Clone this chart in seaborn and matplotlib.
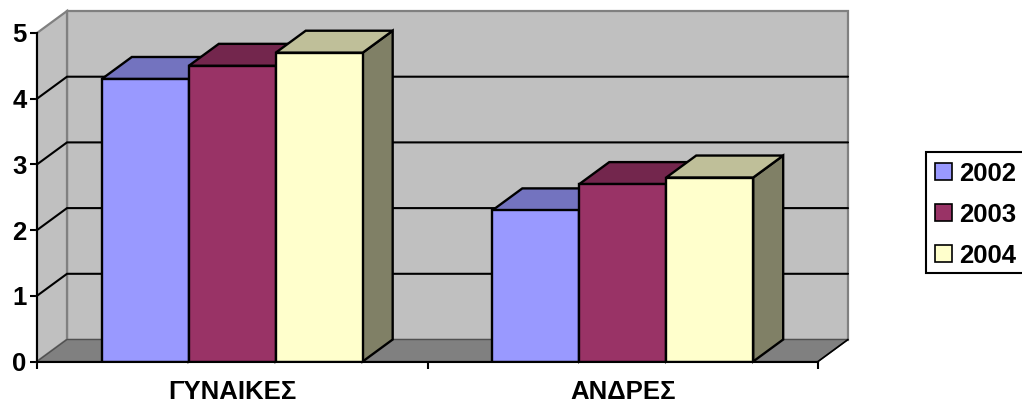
import seaborn as sns
import matplotlib.pyplot as plt
import pandas as pd
from matplotlib.patches import Polygon, Rectangle

categories = ["ΓΥΝΑΙΚΕΣ", "ΑΝΔΡΕΣ"]
years = ["2002", "2003", "2004"]
values_2002 = [4.3, 2.3]
values_2003 = [4.5, 2.7]
values_2004 = [4.7, 2.8]

front_colors = ["#9999FF", "#993366", "#FFFFCC"]
top_colors = ["#7373BF", "#73264D", "#BFBF99"]
side_colors = ["#7373BF", "#73264D", "#808066"]

df = pd.DataFrame({
    "grupo": categories * 3,
    "etos": [y for y in years for _ in categories],
    "valor": values_2002 + values_2003 + values_2004,
})

sns.set_style("white")
plt.rcParams["font.family"] = ["Liberation Sans", "DejaVu Sans"]
plt.rcParams["font.weight"] = "bold"
plt.rcParams["text.color"] = "black"
plt.rcParams["xtick.color"] = "black"
plt.rcParams["ytick.color"] = "black"

W, H = 1022, 405
fig = plt.figure(figsize=(W / 100, H / 100), dpi=100)
ax = fig.add_axes([37 / W, 1 - 361.5 / H, 781 / W, 328.5 / H])

sns.barplot(
    data=df, x="grupo", y="valor", hue="etos", palette=front_colors,
    width=0.668, gap=0, saturation=1, edgecolor="black", linewidth=1.7, ax=ax,
)
ax.set_xlim(-0.5, 1.5)
ax.set_ylim(0, 5)

# depth of the fake 3d box, in data units
dx = 30 / 390.5
dy = 22 / 65.7
x0, x1 = -0.5, 1.5
y_top = 5

gray = "#808080"
wall = Polygon([(x0 + dx, dy), (x1 + dx, dy), (x1 + dx, y_top + dy), (x0 + dx, y_top + dy)],
               fc="#C0C0C0", ec=gray, lw=1.6, zorder=0.5, clip_on=False)
left = Polygon([(x0, 0), (x0 + dx, dy), (x0 + dx, y_top + dy), (x0, y_top)],
               fc="#C0C0C0", ec=gray, lw=1.6, zorder=0.6, clip_on=False)
floor = Polygon([(x0, 0), (x1, 0), (x1 + dx, dy), (x0 + dx, dy)],
                fc=gray, ec="#505050", lw=1, zorder=0.7, clip_on=False)
for p in (wall, left, floor):
    ax.add_patch(p)

for y in range(1, y_top):
    ax.plot([x0, x0 + dx, x1 + dx], [y, y + dy, y + dy], color="black", lw=1.5,
            zorder=1, clip_on=False, solid_joinstyle="miter")
ax.plot([x1, x1 + dx], [0, dy], color="black", lw=1.2, zorder=1, clip_on=False)

# top and side faces, later bars cover the earlier ones
for i, container in enumerate(ax.containers):
    for bar in container:
        bx, bw, bh = bar.get_x(), bar.get_width(), bar.get_height()
        z = 3 + i * 0.1
        bar.set_zorder(z + 0.05)
        bar.set_joinstyle("miter")
        top = Polygon([(bx, bh), (bx + bw, bh), (bx + bw + dx, bh + dy), (bx + dx, bh + dy)],
                      fc=top_colors[i], ec="black", lw=1.7, zorder=z, clip_on=False, joinstyle="miter")
        side = Polygon([(bx + bw, 0), (bx + bw + dx, dy), (bx + bw + dx, bh + dy), (bx + bw, bh)],
                       fc=side_colors[i], ec="black", lw=1.7, zorder=z, clip_on=False, joinstyle="miter")
        ax.add_patch(side)
        ax.add_patch(top)

sns.despine(ax=ax, top=True, right=True)
for s in ("left", "bottom"):
    ax.spines[s].set_color("black")
    ax.spines[s].set_linewidth(1.5)
    ax.spines[s].set_zorder(2)
ax.spines["bottom"].set_zorder(6)

ax.set_xlabel("")
ax.set_ylabel("")
ax.set_yticks(range(0, 6))
ax.set_xticks([0, 1], categories)
ax.set_xticks([-0.5, 0.5, 1.5], minor=True)
ax.tick_params(axis="x", which="major", length=0, pad=13, labelsize=18.5)
ax.tick_params(axis="x", which="minor", length=5, width=1.5, color="black", bottom=True)
ax.tick_params(axis="y", length=5, width=1.5, color="black", left=True, pad=2.5, labelsize=18.5)

# legend box runs off the right edge, so it is drawn apart from the entries
box = Rectangle((925.7 / W, 1 - 272.7 / H), 110 / W, 120.7 / H, transform=fig.transFigure,
                fc="white", ec="black", lw=1.5, zorder=1)
fig.add_artist(box)

handles, labels = ax.get_legend_handles_labels()
ax.get_legend().remove()
leg = fig.legend(
    handles, labels, loc="upper left", bbox_to_anchor=(925.7 / W, 1 - 152 / H),
    borderaxespad=0, frameon=False,
    fontsize=18.5, handlelength=0.66, handleheight=0.66, handletextpad=0.28,
    labelspacing=0.66, borderpad=0.38,
)
leg.set_zorder(2)
for h in leg.legend_handles:
    h.set_edgecolor("black")
    h.set_linewidth(1.2)

fig.savefig("out.png", dpi=100)
